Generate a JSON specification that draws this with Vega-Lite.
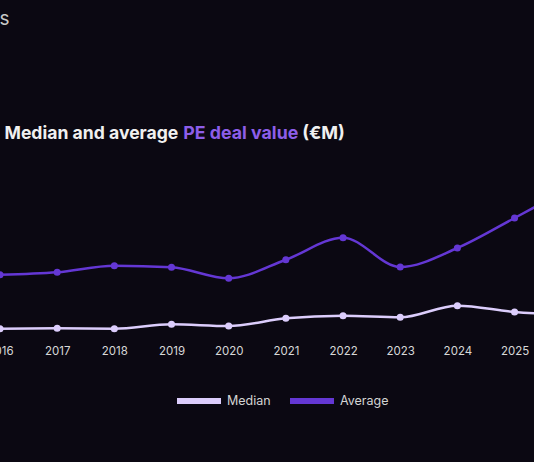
{
  "$schema": "https://vega.github.io/schema/vega-lite/v6.json",
  "width": 534,
  "height": 340,
  "autosize": {"type": "none"},
  "padding": {"left": 0, "top": 0, "right": 0, "bottom": 122},
  "background": "#0b0812",
  "config": {"view": {"stroke": null}, "font": "Inter"},
  "data": {
    "values": [
      {"year": 2016, "series": "Median", "value": 11.3},
      {"year": 2017, "series": "Median", "value": 11.7},
      {"year": 2018, "series": "Median", "value": 11.3},
      {"year": 2019, "series": "Median", "value": 15.7},
      {"year": 2020, "series": "Median", "value": 14.0},
      {"year": 2021, "series": "Median", "value": 21.7},
      {"year": 2022, "series": "Median", "value": 24.3},
      {"year": 2023, "series": "Median", "value": 22.7},
      {"year": 2024, "series": "Median", "value": 34.3},
      {"year": 2025, "series": "Median", "value": 28.0},
      {"year": 2026, "series": "Median", "value": 25.0},
      {"year": 2016, "series": "Average", "value": 65.3},
      {"year": 2017, "series": "Average", "value": 67.7},
      {"year": 2018, "series": "Average", "value": 74.3},
      {"year": 2019, "series": "Average", "value": 72.7},
      {"year": 2020, "series": "Average", "value": 61.7},
      {"year": 2021, "series": "Average", "value": 80.3},
      {"year": 2022, "series": "Average", "value": 102.3},
      {"year": 2023, "series": "Average", "value": 73.0},
      {"year": 2024, "series": "Average", "value": 92.0},
      {"year": 2025, "series": "Average", "value": 122.0},
      {"year": 2026, "series": "Average", "value": 153.0}
    ]
  },
  "layer": [
    {
      "mark": {"type": "line", "interpolate": "monotone", "strokeWidth": 2.5, "clip": true},
      "encoding": {
        "x": {
          "field": "year", "type": "quantitative",
          "scale": {"domain": [2016, 2025.34], "nice": false, "zero": false},
          "axis": {
            "orient": "bottom",
            "values": [2016, 2017, 2018, 2019, 2020, 2021, 2022, 2023, 2024, 2025],
            "format": "d",
            "domain": false, "ticks": false, "tickSize": 0, "grid": false,
            "labelColor": "#d8d8d8", "labelFont": "Inter", "labelFontSize": 11.5,
            "labelPadding": 5, "labelFlush": false, "labelOverlap": false, "labelBound": false,
            "title": "(€M)", "titleX": 301.7, "titleY": -202, "titleAlign": "left",
            "titleBaseline": "alphabetic", "titleAngle": 0, "titleColor": "#f0f0f0",
            "titleFont": "Inter", "titleFontSize": 18, "titleFontWeight": "bold"
          }
        },
        "y": {
          "field": "value", "type": "quantitative",
          "scale": {"domain": [0, 340], "nice": false, "zero": false},
          "axis": {
            "orient": "left", "domain": false, "ticks": false, "labels": false, "grid": false,
            "title": "Median and average", "titleX": 4, "titleY": 138, "titleAngle": 0,
            "titleAlign": "left", "titleBaseline": "alphabetic", "titleColor": "#f0f0f0",
            "titleFont": "Inter", "titleFontSize": 17.6, "titleFontWeight": "bold"
          }
        },
        "color": {
          "field": "series", "type": "nominal",
          "scale": {"domain": ["Median", "Average"], "range": ["#dccdfc", "#6437d4"]},
          "legend": {
            "orient": "none", "legendX": 174, "legendY": 376, "direction": "horizontal",
            "title": null, "symbolType": "stroke", "symbolSize": 1936, "symbolStrokeWidth": 6,
            "labelColor": "#d4d4d4", "labelFontSize": 12.5, "labelFont": "Inter",
            "labelOffset": 3, "columnPadding": 7, "padding": 0, "symbolOpacity": 1
          }
        }
      }
    },
    {
      "mark": {"type": "point", "filled": true, "size": 50, "opacity": 1, "clip": true},
      "encoding": {
        "x": {
          "field": "year", "type": "quantitative",
          "scale": {"domain": [2016, 2025.34], "nice": false, "zero": false},
          "axis": {
            "orient": "top", "domain": false, "ticks": false, "labels": false, "grid": false,
            "title": "s", "titleX": -1, "titleY": 24, "titleAlign": "left",
            "titleBaseline": "alphabetic", "titleAngle": 0, "titleColor": "#c8c8c8",
            "titleFont": "Inter", "titleFontSize": 19, "titleFontWeight": "normal"
          }
        },
        "y": {
          "field": "value", "type": "quantitative",
          "scale": {"domain": [0, 340], "nice": false, "zero": false},
          "axis": {
            "orient": "right", "domain": false, "ticks": false, "labels": false, "grid": false,
            "title": "PE deal value", "titleX": -351.3, "titleY": 138, "titleAngle": 0,
            "titleAlign": "left", "titleBaseline": "alphabetic", "titleColor": "#8d5ee9",
            "titleFont": "Inter", "titleFontSize": 17.8, "titleFontWeight": "bold"
          }
        },
        "color": {
          "field": "series", "type": "nominal",
          "scale": {"domain": ["Median", "Average"], "range": ["#dccdfc", "#6437d4"]}
        }
      }
    }
  ],
  "resolve": {"axis": {"x": "independent", "y": "independent"}}
}
